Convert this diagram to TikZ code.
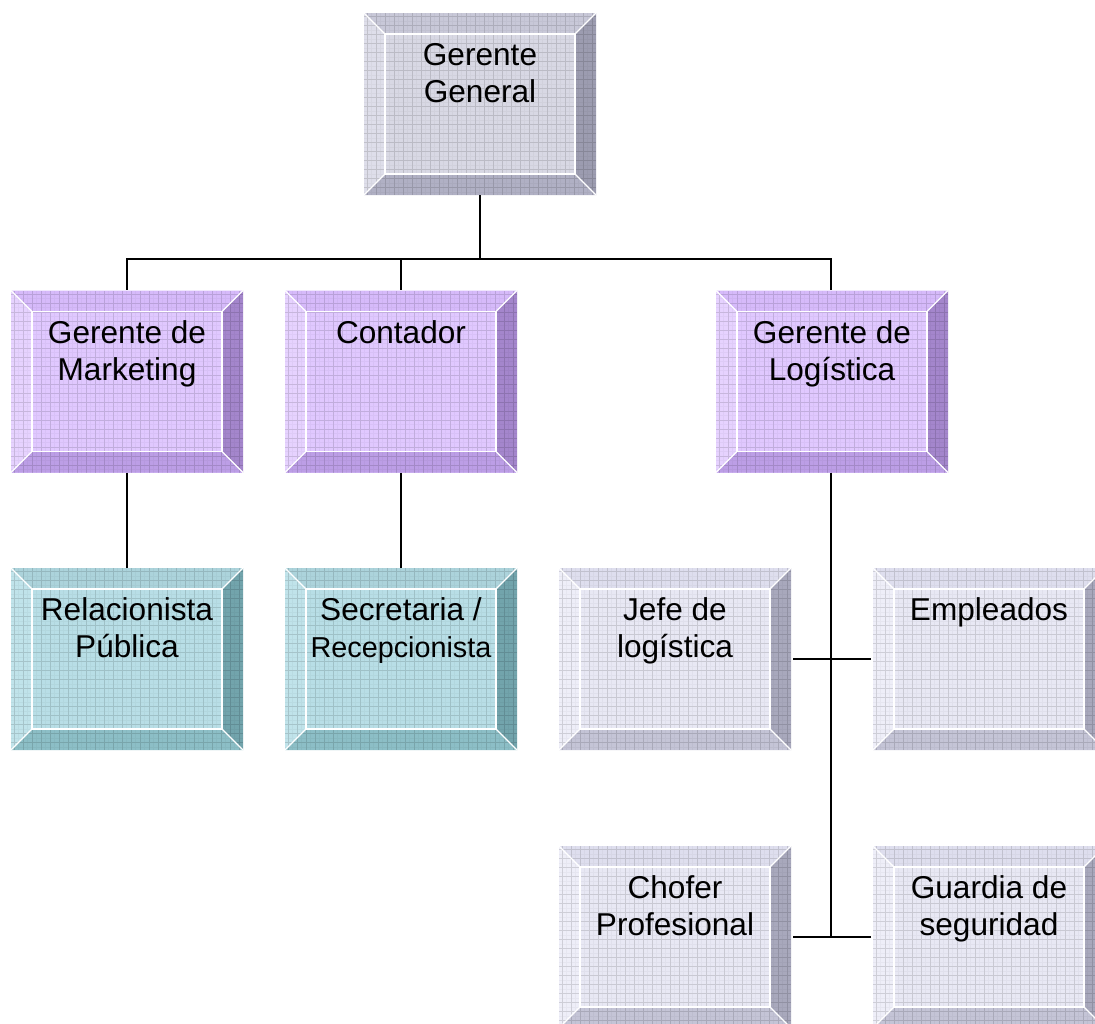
\documentclass[tikz,border=0pt]{standalone}
\usepackage{fontspec}
\setmainfont{Liberation Sans}
\usetikzlibrary{calc}
\definecolor{ggface}{HTML}{D8D8E4}\definecolor{ggtop}{HTML}{C8C8D8}\definecolor{ggleft}{HTML}{DEDEEA}\definecolor{ggright}{HTML}{9C9CB0}\definecolor{ggbot}{HTML}{B0B0C4}
\definecolor{puface}{HTML}{E0C8FF}\definecolor{putop}{HTML}{D6BAFA}\definecolor{puleft}{HTML}{E6D2FF}\definecolor{puright}{HTML}{A486CC}\definecolor{pubot}{HTML}{BC9EE6}
\definecolor{tlface}{HTML}{B8DEE6}\definecolor{tltop}{HTML}{ACD3DB}\definecolor{tlleft}{HTML}{C0E3EA}\definecolor{tlright}{HTML}{72A4AC}\definecolor{tlbot}{HTML}{8CBEC6}
\definecolor{lgface}{HTML}{E8E8F4}\definecolor{lgtop}{HTML}{DEDEEE}\definecolor{lgleft}{HTML}{EEEEF8}\definecolor{lgright}{HTML}{A8A8BC}\definecolor{lgbot}{HTML}{C4C4D6}
\newcommand{\btext}[1]{\parbox[c][182pt][t]{226pt}{\centering\fontsize{31.6}{37}\selectfont\vspace*{30pt}#1\par}}
\tikzset{
  box/.style={rectangle, draw=none, inner sep=0pt, minimum width=232pt, minimum height=182pt},
  bevel/.style n args={5}{fill=#1, path picture={
    \path (path picture bounding box.north west) coordinate (pnw)
          (path picture bounding box.south east) coordinate (pse);
    \coordinate (pne) at (pse |- pnw);
    \coordinate (psw) at (pnw |- pse);
    \coordinate (inw) at ($(pnw)+(21pt,-21pt)$);
    \coordinate (ine) at ($(pne)+(-21pt,-21pt)$);
    \coordinate (ise) at ($(pse)+(-21pt,21pt)$);
    \coordinate (isw) at ($(psw)+(21pt,21pt)$);
    \fill[#2] (pnw) -- (pne) -- (ine) -- (inw) -- cycle;
    \fill[#3] (pnw) -- (psw) -- (isw) -- (inw) -- cycle;
    \fill[#4] (pne) -- (pse) -- (ise) -- (ine) -- cycle;
    \fill[#5] (psw) -- (pse) -- (ise) -- (isw) -- cycle;
    \draw[black, draw opacity=0.03, line width=0.4pt, step=4.5pt] (pnw) grid (pse);
    \draw[black, draw opacity=0.10, line width=0.7pt, step=9pt] (pnw) grid (pse);
    \draw[white, line width=1.6pt] (inw) rectangle (ise);
    \draw[white, line width=1.3pt] (pnw) -- (inw) (pne) -- (ine) (pse) -- (ise) (psw) -- (isw);
  }},
  gray/.style={box, bevel={ggface}{ggtop}{ggleft}{ggright}{ggbot}},
  purple/.style={box, bevel={puface}{putop}{puleft}{puright}{pubot}},
  teal/.style={box, bevel={tlface}{tltop}{tlleft}{tlright}{tlbot}},
  light/.style={box, bevel={lgface}{lgtop}{lgleft}{lgright}{lgbot}},
  conn/.style={draw=black, line width=1.6pt}
}
\begin{document}
\begin{tikzpicture}[x=1pt, y=-1pt]
\useasboundingbox (0,0) rectangle (1095,1023);
\fill[white] (0,0) rectangle (1095,1023);
\clip (0,0) rectangle (1095,1023);
% nodes
\node[gray]   (gg) at (480,104)   {\btext{Gerente\\General}};
\node[purple] (mk) at (127,381.5) {\btext{Gerente de\\Marketing}};
\node[purple] (ct) at (401,381.5) {\btext{Contador}};
\node[purple] (lg) at (832,381.5) {\btext{Gerente de\\Logística}};
\node[teal]   (rp) at (127,659)   {\btext{Relacionista\\Pública}};
\node[teal]   (sr) at (401,659)   {\btext{Secretaria /\\{\fontsize{28.8}{37}\selectfont Recepcionista}}};
\node[light]  (jl) at (675,659)   {\btext{Jefe de\\logística}};
\node[light]  (em) at (989,659)   {\btext{Empleados}};
\node[light]  (ch) at (675,937)   {\btext{Chofer\\Profesional}};
\node[light]  (gs) at (989,937)   {\btext{Guardia de\\seguridad}};
% connectors
\coordinate (bus) at (480,259);
\coordinate (lgj) at (831,937);
\draw[conn] (gg.south) -- (bus);
\draw[conn] (bus) -| (mk.north);
\draw[conn] (bus) -| (ct.north);
\draw[conn] (bus) -| ([xshift=-1pt]lg.north);
\draw[conn] (mk.south) -- (rp.north);
\draw[conn] (ct.south) -- (sr.north);
\draw[conn] ([xshift=-1pt]lg.south) -- (lgj);
\draw[conn, shorten <=2pt, shorten >=2pt] (jl.east) -- (em.west);
\draw[conn, shorten <=2pt, shorten >=2pt] (ch.east) -- (gs.west);
\end{tikzpicture}
\end{document}
